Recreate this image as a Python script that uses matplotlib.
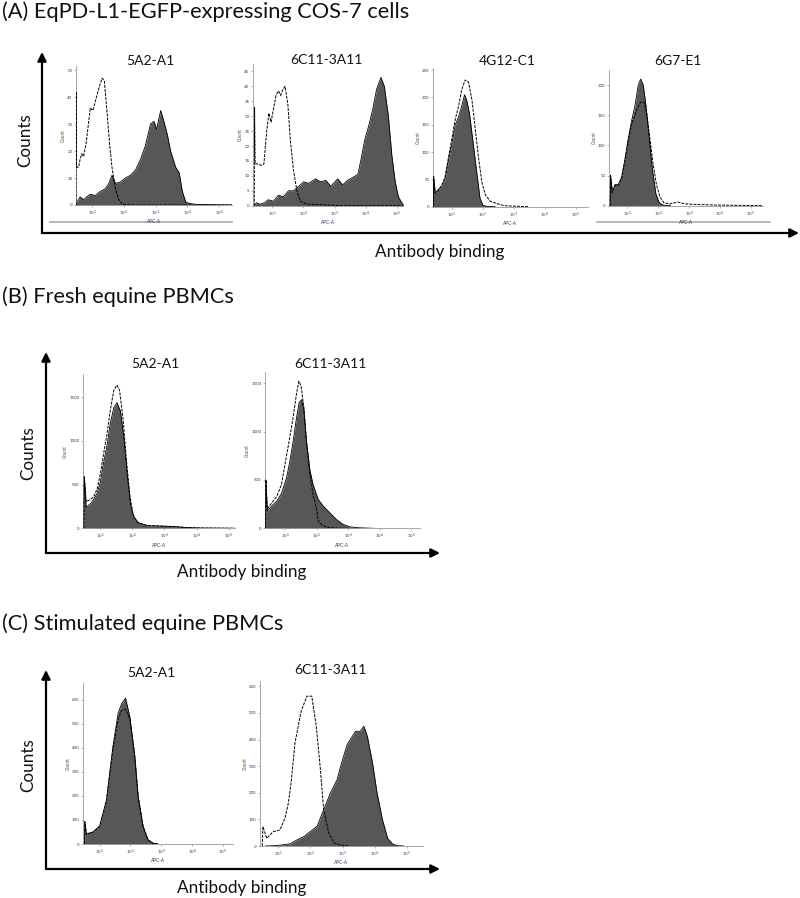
import matplotlib
matplotlib.use('Agg')
import matplotlib.pyplot as plt
import numpy as np

plt.rcParams['font.family'] = ['Lato', 'DejaVu Sans']

# ---------------- data (x in decades of APC-A, y in counts) ----------------
# (A) EqPD-L1-EGFP-expressing COS-7 cells
a1_fill_x = [0.5, 0.53, 0.63, 0.74, 0.84, 0.95, 1.1, 1.26, 1.42, 1.53, 1.63, 1.74, 1.89, 2.05, 2.21, 2.37,
             2.53, 2.68, 2.84, 2.95, 3.03, 3.16, 3.26, 3.37, 3.47, 3.63, 3.74, 3.84, 3.95, 4.1, 4.3, 5.4]
a1_fill = [0, 1, 3, 2, 3, 4, 3.5, 5, 6, 8, 11, 8, 8.5, 10, 11, 13,
           17, 22, 30, 31, 28, 35, 31, 26, 20, 14, 12, 5, 1, 0.5, 0.2, 0]
a1_open_x = [0.5, 0.505, 0.52, 0.58, 0.63, 0.68, 0.74, 0.82, 0.89, 0.95, 1.03, 1.1, 1.21, 1.32, 1.39,
             1.47, 1.56, 1.63, 1.74, 1.84, 1.95, 2.2, 5.4]
a1_open = [0, 42, 14, 14, 17, 19, 18, 23, 30, 36, 35, 38, 43, 47, 46,
           35, 22, 14, 6, 2, 0.3, 0, 0]

a2_fill_x = [0.43, 0.49, 0.6, 0.76, 0.87, 1.03, 1.2, 1.36, 1.52, 1.68, 1.85, 2.01, 2.17, 2.39, 2.55,
             2.72, 2.88, 3.1, 3.26, 3.42, 3.59, 3.75, 3.86, 3.97, 4.13, 4.24, 4.35, 4.49, 4.6, 4.73,
             4.84, 4.95, 5.05, 5.16, 5.27, 5.35]
a2_fill = [0, 1, 0.5, 1, 2, 1.5, 3.5, 3, 5, 5, 6.5, 8, 7.5, 9, 8,
           8.5, 6.5, 9, 7, 8.5, 9.5, 10.5, 16, 22, 28, 33, 39, 43, 40, 30,
           17, 8, 3, 1, 0.3, 0]
a2_open_x = [0.42, 0.43, 0.45, 0.54, 0.65, 0.73, 0.82, 0.89, 0.96, 1.03, 1.12, 1.2, 1.27, 1.34, 1.41,
             1.5, 1.58, 1.68, 1.79, 1.9, 2.12, 2.7, 3.2, 5.3]
a2_open = [0, 33, 14, 14, 13.5, 14, 25, 31, 28, 32, 37, 38.5, 37, 39, 40,
           34, 22, 12, 5, 1.5, 0.5, 0.3, 0, 0]

a3_fill_x = [0.4, 0.41, 0.46, 0.57, 0.68, 0.78, 0.89, 1.0, 1.11, 1.22, 1.32, 1.41, 1.48, 1.57, 1.68,
             1.81, 1.91, 2.0, 2.13, 2.4]
a3_fill = [0, 55, 25, 32, 38, 50, 85, 115, 150, 165, 185, 205, 195, 170, 120,
           60, 15, 3, 0.5, 0]
a3_open_x = [0.4, 0.41, 0.46, 0.57, 0.68, 0.78, 0.89, 1.0, 1.11, 1.22, 1.32, 1.43, 1.54, 1.65, 1.75,
             1.86, 1.97, 2.08, 2.24, 2.45, 2.67, 3.0, 3.5]
a3_open = [0, 55, 25, 30, 40, 55, 90, 125, 160, 185, 215, 232, 228, 195, 145,
           90, 45, 22, 10, 6, 2, 1, 0]

a4_fill_x = [0.44, 0.45, 0.51, 0.59, 0.7, 0.81, 0.91, 1.02, 1.13, 1.24, 1.35, 1.43, 1.51, 1.59, 1.7,
             1.81, 1.92, 2.03, 2.16, 2.4]
a4_fill = [0, 50, 22, 35, 35, 48, 75, 110, 140, 165, 200, 210, 200, 170, 115,
           60, 20, 5, 1, 0]
a4_open_x = [0.44, 0.45, 0.51, 0.59, 0.7, 0.81, 0.91, 1.02, 1.13, 1.24, 1.35, 1.43, 1.53, 1.62, 1.72,
             1.83, 1.94, 2.05, 2.18, 2.37, 2.64, 2.86, 3.24, 3.89, 4.75, 5.4]
a4_open = [0, 50, 22, 33, 33, 45, 72, 105, 135, 150, 165, 172, 172, 155, 115,
           70, 35, 15, 5, 3, 6, 3, 2, 1, 0.5, 0]

# (B) Fresh equine PBMCs
b1_fill_x = [0.49, 0.5, 0.56, 0.69, 0.79, 0.9, 1.0, 1.1, 1.21, 1.31, 1.42, 1.52, 1.63, 1.73, 1.83,
             1.94, 2.04, 2.2, 2.46, 2.88, 3.29, 3.71, 4.13, 4.96, 5.2]
b1_fill = [0, 590, 240, 280, 330, 400, 530, 750, 950, 1200, 1380, 1440, 1340, 1050, 650,
           280, 130, 60, 30, 25, 20, 8, 3, 1, 0]
b1_open_x = [0.49, 0.5, 0.56, 0.69, 0.79, 0.9, 1.0, 1.1, 1.21, 1.31, 1.42, 1.52, 1.6, 1.71, 1.81,
             1.92, 2.02, 2.15, 2.46, 2.88, 3.29, 3.71, 4.13, 4.96, 5.2]
b1_open = [0, 590, 305, 330, 360, 450, 620, 850, 1080, 1350, 1580, 1640, 1580, 1250, 800,
           380, 160, 70, 32, 26, 20, 8, 3, 1, 0]

b2_fill_x = [0.39, 0.4, 0.44, 0.58, 0.74, 0.89, 1.05, 1.16, 1.26, 1.37, 1.45, 1.53, 1.6, 1.68, 1.79,
             1.89, 2.05, 2.21, 2.42, 2.63, 2.84, 3.05, 3.36, 3.8]
b2_fill = [0, 500, 180, 230, 280, 360, 520, 700, 900, 1150, 1300, 1330, 1220, 900, 600,
           450, 300, 230, 160, 90, 40, 15, 5, 0]
b2_open_x = [0.39, 0.4, 0.44, 0.58, 0.74, 0.89, 1.05, 1.16, 1.26, 1.37, 1.44, 1.51, 1.6, 1.68, 1.79,
             1.89, 2.0, 2.05, 2.18, 2.34, 2.6, 3.0]
b2_open = [0, 500, 200, 260, 330, 450, 750, 950, 1150, 1400, 1520, 1470, 1250, 900, 550,
           350, 200, 80, 30, 10, 3, 0]

# (C) Stimulated equine PBMCs
c1_x = [0.51, 0.52, 0.57, 0.78, 1.0, 1.22, 1.43, 1.6, 1.71, 1.84, 1.98, 2.14, 2.25, 2.41, 2.57, 2.74, 2.9]
c1_fill = [0, 93, 42, 50, 75, 183, 405, 545, 583, 607, 530, 364, 197, 72, 17, 3, 0]
c1_open = [0, 93, 40, 48, 72, 175, 390, 520, 555, 560, 520, 370, 200, 75, 18, 3, 0]

c2_fill_x = [0.6, 0.84, 1.05, 1.37, 1.58, 1.79, 2.0, 2.21, 2.41, 2.62, 2.83, 2.95, 3.14, 3.4, 3.55,
             3.66, 3.77, 3.93, 4.07, 4.24, 4.4, 4.55, 4.7, 4.9]
c2_fill = [0, 1, 3, 8, 23, 35, 55, 75, 136, 199, 250, 305, 381, 431, 431,
           450, 412, 312, 200, 98, 29, 8, 1, 0]
c2_open_x = [0.5, 0.52, 0.64, 0.84, 1.05, 1.21, 1.31, 1.4, 1.52, 1.71, 1.89, 2.04, 2.18, 2.3, 2.41,
             2.57, 2.73, 2.93, 3.2]
c2_open = [0, 73, 29, 54, 60, 106, 160, 240, 388, 507, 563, 563, 450, 300, 136,
           48, 12, 3, 0]

panel_titles = ['(A) EqPD-L1-EGFP-expressing COS-7 cells', '(B) Fresh equine PBMCs',
                '(C) Stimulated equine PBMCs']
x_major = [1, 2, 3, 4, 5]
x_major_labels = ['10$^1$', '10$^2$', '10$^3$', '10$^4$', '10$^5$']

# ---------------- figure ----------------
W, H = 800, 898
fig = plt.figure(figsize=(W / 100, H / 100), dpi=100)
renderer = fig.canvas.get_renderer()

over = fig.add_axes([0, 0, 1, 1], zorder=0)
over.set_xlim(0, W)
over.set_ylim(H, 0)
over.axis('off')


def fit_text(x, y, s, width, ha='left', va='center', **kw):
    t = over.text(x, y, s, ha=ha, va=va, fontsize=12, **kw)
    bb = t.get_window_extent(renderer=renderer)
    fs = 12 * width / bb.width
    t.set_fontsize(fs)
    return fs


def arrow(x0, y0, x1, y1):
    over.annotate('', xy=(x1, y1), xytext=(x0, y0),
                  arrowprops=dict(arrowstyle='-|>', color='black', lw=1.6,
                                  mutation_scale=13, shrinkA=0, shrinkB=0))


def hist_ax(box, xlim, ylim, yticks, fx, fy, ox, oy, title, tx, ty, tfs):
    l, t, r, b = box
    ax = fig.add_axes([l / W, 1 - b / H, (r - l) / W, (b - t) / H], zorder=2)
    ax.patch.set_alpha(0)
    ax.fill_between(fx, fy, 0, color='#575757', lw=0, zorder=2)
    ax.plot(fx, fy, color='black', lw=0.6, zorder=3)
    ax.plot(ox, oy, color='black', lw=0.7, ls=(0, (3, 1.2)), zorder=4)
    ax.set_xlim(*xlim)
    ax.set_ylim(*ylim)
    ax.set_xticks(x_major)
    ax.set_xticklabels(x_major_labels)
    minor = [d + np.log10(k) for d in range(0, 6) for k in range(2, 10)]
    minor = [m for m in minor if xlim[0] < m < xlim[1]]
    ax.set_xticks(minor, minor=True)
    ax.set_yticks(yticks)
    ax.tick_params(labelsize=3.2, length=1.6, width=0.4, pad=1, color='#777777',
                   labelcolor='#2b3f6b')
    ax.tick_params(which='minor', length=1.0, width=0.3, color='#999999')
    for s in ['top', 'right']:
        ax.spines[s].set_visible(False)
    for s in ['left', 'bottom']:
        ax.spines[s].set_color('#9a9a9a')
        ax.spines[s].set_linewidth(0.6)
    ax.set_xlabel('APC-A', fontsize=3.4, labelpad=1, color='#2b3f6b')
    ax.set_ylabel('Count', fontsize=3.4, labelpad=1, color='#6b4a2b')
    over.text(tx, ty, title, ha='center', va='center', fontsize=tfs, color='#111111')
    return ax


# panel titles
tfs = fit_text(2, 12, panel_titles[0], 406, color='#111111')
over.text(2, 297, panel_titles[1], ha='left', va='center', fontsize=tfs, color='#111111')
over.text(2, 624, panel_titles[2], ha='left', va='center', fontsize=tfs, color='#111111')

# axis arrows + labels
arrow(42, 233, 42, 52)
arrow(42, 233, 799, 233)
lfs = fit_text(440, 252, 'Antibody binding', 128, ha='center', color='#111111')
over.text(25, 140, 'Counts', rotation=90, ha='center', va='center', fontsize=lfs, color='#111111')

arrow(46, 553, 46, 352)
arrow(46, 553, 440, 553)
over.text(242, 572, 'Antibody binding', ha='center', va='center', fontsize=lfs, color='#111111')
over.text(28, 453, 'Counts', rotation=90, ha='center', va='center', fontsize=lfs, color='#111111')

arrow(46, 869, 46, 670)
arrow(46, 869, 440, 869)
over.text(242, 888, 'Antibody binding', ha='center', va='center', fontsize=lfs, color='#111111')
over.text(28, 765, 'Counts', rotation=90, ha='center', va='center', fontsize=lfs, color='#111111')

# subplot title size
t = over.text(-100, -100, '6C11-3A11', fontsize=12)
sfs = 12 * 72 / t.get_window_extent(renderer=renderer).width
t.remove()

# grey frame lines of the original images
over.plot([50, 232], [222, 222], color='#aaaaaa', lw=1.2)
over.plot([597, 770], [222, 222], color='#aaaaaa', lw=1.2)

# panel A
hist_ax((76, 66, 232, 205), (0.5, 5.4), (0, 51.5), [0, 10, 20, 30, 40, 50],
        a1_fill_x, a1_fill, a1_open_x, a1_open, '5A2-A1', 150, 61, sfs)
hist_ax((253, 64, 403, 205.7), (0.38, 5.2), (0, 47.5), list(range(0, 50, 5)),
        a2_fill_x, a2_fill, a2_open_x, a2_open, '6C11-3A11', 326, 60, sfs)
hist_ax((433, 68, 588, 206.7), (0.39, 5.4), (0, 254), [0, 50, 100, 150, 200, 250],
        a3_fill_x, a3_fill, a3_open_x, a3_open, '4G12-C1', 507, 61, sfs)
hist_ax((609, 70, 763, 205.7), (0.4, 5.4), (0, 225), [0, 50, 100, 150, 200],
        a4_fill_x, a4_fill, a4_open_x, a4_open, '6G7-E1', 678, 61, sfs)

# panel B
hist_ax((83, 374, 235, 528.3), (0.46, 5.2), (0, 1767), [0, 500, 1000, 1500],
        b1_fill_x, b1_fill, b1_open_x, b1_open, '5A2-A1', 155, 364, sfs)
hist_ax((265, 372, 420, 528.3), (0.37, 5.27), (0, 1615), [0, 500, 1000, 1500],
        b2_fill_x, b2_fill, b2_open_x, b2_open, '6C11-3A11', 330, 364, sfs)

# panel C
hist_ax((83, 683, 233, 844), (0.46, 5.33), (0, 670), [0, 100, 200, 300, 400, 500, 600],
        c1_x, c1_fill, c1_x, c1_open, '5A2-A1', 151, 673, sfs)
hist_ax((260, 681, 423, 846), (0.43, 5.5), (0, 620), [0, 100, 200, 300, 400, 500, 600],
        c2_fill_x, c2_fill, c2_open_x, c2_open, '6C11-3A11', 330, 670, sfs)

fig.savefig('out.png', dpi=100)
